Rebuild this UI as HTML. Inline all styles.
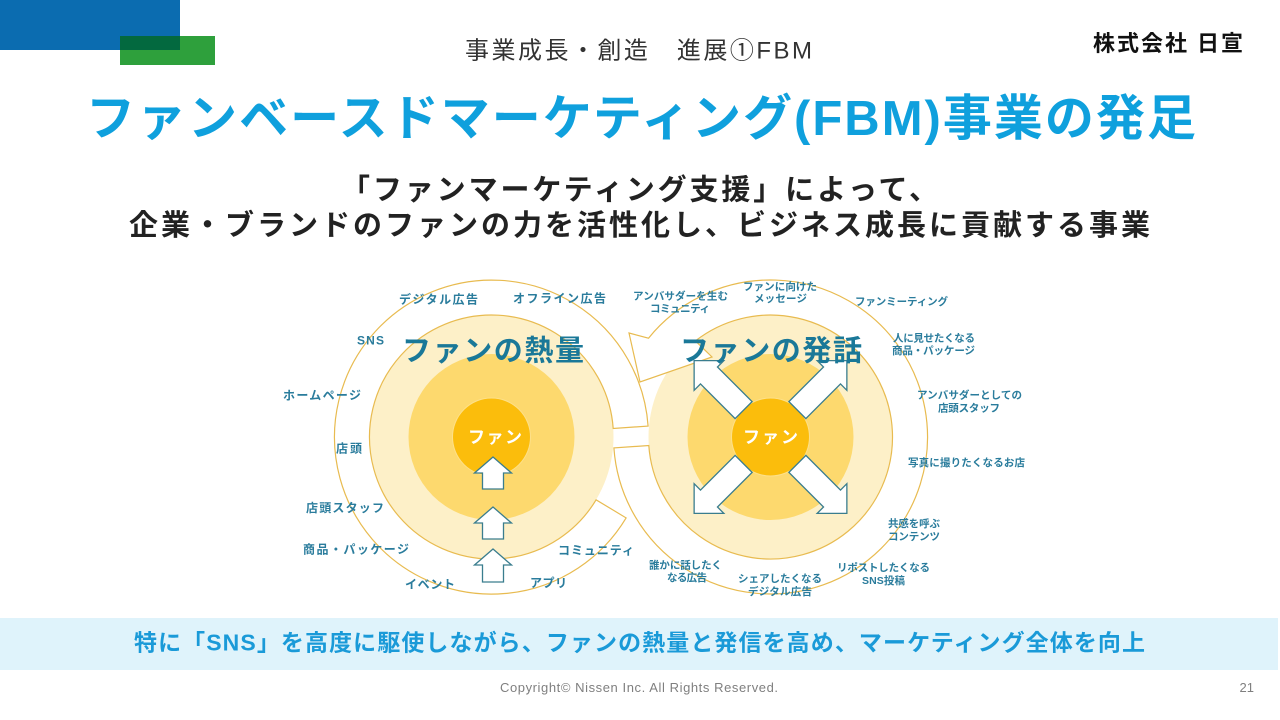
<!DOCTYPE html>
<html><head><meta charset="utf-8">
<style>
html,body{margin:0;padding:0;background:#fff;width:1280px;height:720px;overflow:hidden}
svg{display:block}
text{font-family:"Liberation Sans","Noto Sans CJK JP",sans-serif}
.l{font-size:12px;font-weight:bold;fill:#2a7c9c}
.r{font-size:10.5px;font-weight:bold;fill:#2a7c9c}
.big{font-size:29px;font-weight:bold;fill:#1a7898}
.fan{font-size:17px;font-weight:bold;fill:#fff}
</style></head>
<body>
<svg width="1280" height="720" viewBox="0 0 1280 720" xmlns="http://www.w3.org/2000/svg">
<!-- top-left decoration -->
<rect x="0" y="0" width="180" height="50" fill="#0b6cb0"/>
<rect x="120" y="36" width="95" height="29" fill="#2ea03c"/>
<rect x="120" y="36" width="60" height="14" fill="#03693f"/>

<!-- header -->
<text x="465" y="58.5" font-size="24" fill="#333" textLength="347" lengthAdjust="spacing">事業成長・創造　進展①FBM</text>
<text x="1093" y="51" font-size="22" font-weight="bold" fill="#111" textLength="150" lengthAdjust="spacing">株式会社 日宣</text>

<!-- title -->
<text x="86" y="135" font-size="49" font-weight="bold" fill="#0fa0dd" textLength="1110" lengthAdjust="spacing">ファンベースドマーケティング(FBM)事業の発足</text>

<!-- subtitle -->
<text x="341" y="199.7" font-size="29" font-weight="bold" fill="#222" textLength="597" lengthAdjust="spacing">「ファンマーケティング支援」によって、</text>
<text x="129" y="235.2" font-size="29" font-weight="bold" fill="#222" textLength="1021" lengthAdjust="spacing">企業・ブランドのファンの力を活性化し、ビジネス成長に貢献する事業</text>

<!-- disks -->
<circle cx="491.5" cy="437" r="122" fill="#fdf0c8"/>
<circle cx="770.5" cy="437" r="122" fill="#fdf0c8"/>
<circle cx="491.5" cy="437" r="83" fill="#fdd96e"/>
<circle cx="770.5" cy="437" r="83" fill="#fdd96e"/>
<circle cx="491.5" cy="437" r="39" fill="#fbbd0c" stroke="#fde08a" stroke-width="1"/>
<circle cx="770.5" cy="437" r="39" fill="#fbbd0c" stroke="#fde08a" stroke-width="1"/>

<!-- left band -->
<path d="M 626.1 517.9 A 157 157 0 1 1 648.1 426.05 L 613.2 428.5 A 122 122 0 1 0 596.1 499.8 Z" fill="#fff" stroke="#e8bb50" stroke-width="1.2"/>
<!-- right band -->
<path d="M 613.9 447.95 A 157 157 0 1 0 648.5 338.2 L 629 333 L 640 382 L 712 357 L 695.4 340.9 A 122 122 0 1 1 648.8 445.5 Z" fill="#fff" stroke="#e8bb50" stroke-width="1.2"/>

<!-- up arrows -->
<g fill="#fff" stroke="#3a7d8e" stroke-width="1.3" stroke-linejoin="miter">
<polygon points="493,457 511.5,473 503.5,473 503.5,489 482.5,489 482.5,473 474.5,473"/>
<polygon points="493,507 511.5,523 503.5,523 503.5,539 482.5,539 482.5,523 474.5,523"/>
<polygon points="493,549 511.5,565 503.5,565 503.5,582 482.5,582 482.5,565 474.5,565"/>
</g>

<!-- diagonal arrows -->
<g fill="#fff" stroke="#3a7d8e" stroke-width="1.3">
<polygon transform="translate(770.5,437) rotate(-135)" points="38,-12 87,-12 87,-21 108,0 87,21 87,12 38,12"/>
<polygon transform="translate(770.5,437) rotate(-45)" points="38,-12 87,-12 87,-21 108,0 87,21 87,12 38,12"/>
<polygon transform="translate(770.5,437) rotate(45)" points="38,-12 87,-12 87,-21 108,0 87,21 87,12 38,12"/>
<polygon transform="translate(770.5,437) rotate(135)" points="38,-12 87,-12 87,-21 108,0 87,21 87,12 38,12"/>
</g>

<!-- big labels -->
<text class="big" x="402" y="360.7" textLength="182" lengthAdjust="spacing">ファンの熱量</text>
<text class="big" x="680" y="360.7" textLength="182" lengthAdjust="spacing">ファンの発話</text>
<text class="fan" x="468" y="442.8" textLength="54" lengthAdjust="spacing">ファン</text>
<text class="fan" x="743" y="442.8" textLength="55" lengthAdjust="spacing">ファン</text>

<!-- left labels -->
<text class="l" x="399" y="303.4" textLength="79" lengthAdjust="spacing">デジタル広告</text>
<text class="l" x="513" y="302.4" textLength="93" lengthAdjust="spacing">オフライン広告</text>
<text class="l" x="357" y="344.4" textLength="27" lengthAdjust="spacing">SNS</text>
<text class="l" x="283" y="399.4" textLength="78" lengthAdjust="spacing">ホームページ</text>
<text class="l" x="336" y="452.4" textLength="26" lengthAdjust="spacing">店頭</text>
<text class="l" x="306" y="511.9" textLength="78" lengthAdjust="spacing">店頭スタッフ</text>
<text class="l" x="303" y="553.4" textLength="106" lengthAdjust="spacing">商品・パッケージ</text>
<text class="l" x="405" y="588.4" textLength="50" lengthAdjust="spacing">イベント</text>
<text class="l" x="530" y="586.9" textLength="37" lengthAdjust="spacing">アプリ</text>
<text class="l" x="558" y="554.4" textLength="76" lengthAdjust="spacing">コミュニティ</text>

<!-- right labels -->
<text class="r" x="633" y="299.4" textLength="95" lengthAdjust="spacing">アンバサダーを生む</text>
<text class="r" x="650" y="311.9" textLength="60" lengthAdjust="spacing">コミュニティ</text>
<text class="r" x="743" y="289.9" textLength="74" lengthAdjust="spacing">ファンに向けた</text>
<text class="r" x="754" y="301.9" textLength="53" lengthAdjust="spacing">メッセージ</text>
<text class="r" x="855" y="304.9" textLength="93" lengthAdjust="spacing">ファンミーティング</text>
<text class="r" x="893" y="341.4" textLength="82" lengthAdjust="spacing">人に見せたくなる</text>
<text class="r" x="892" y="353.9" textLength="83" lengthAdjust="spacing">商品・パッケージ</text>
<text class="r" x="917" y="398.4" textLength="105" lengthAdjust="spacing">アンバサダーとしての</text>
<text class="r" x="938" y="411.4" textLength="62" lengthAdjust="spacing">店頭スタッフ</text>
<text class="r" x="908" y="465.9" textLength="117" lengthAdjust="spacing">写真に撮りたくなるお店</text>
<text class="r" x="888" y="526.9" textLength="52" lengthAdjust="spacing">共感を呼ぶ</text>
<text class="r" x="888" y="539.9" textLength="52" lengthAdjust="spacing">コンテンツ</text>
<text class="r" x="837" y="570.9" textLength="93" lengthAdjust="spacing">リポストしたくなる</text>
<text class="r" x="862" y="583.9" textLength="43" lengthAdjust="spacing">SNS投稿</text>
<text class="r" x="738" y="581.9" textLength="84" lengthAdjust="spacing">シェアしたくなる</text>
<text class="r" x="748" y="594.9" textLength="64" lengthAdjust="spacing">デジタル広告</text>
<text class="r" x="649" y="568.4" textLength="73" lengthAdjust="spacing">誰かに話したく</text>
<text class="r" x="667" y="580.9" textLength="40" lengthAdjust="spacing">なる広告</text>

<!-- bottom band -->
<rect x="0" y="618" width="1278" height="52" fill="#dff3fb"/>
<text x="134" y="650.5" font-size="23" font-weight="bold" fill="#1a9ad8" textLength="1011" lengthAdjust="spacing">特に「SNS」を高度に駆使しながら、ファンの熱量と発信を高め、マーケティング全体を向上</text>

<!-- footer -->
<text x="500" y="692" font-size="13" fill="#7f7f7f" textLength="278" lengthAdjust="spacing">Copyright© Nissen Inc. All Rights Reserved.</text>
<text x="1254" y="692" font-size="13" fill="#7f7f7f" text-anchor="end">21</text>
</svg>
</body></html>
